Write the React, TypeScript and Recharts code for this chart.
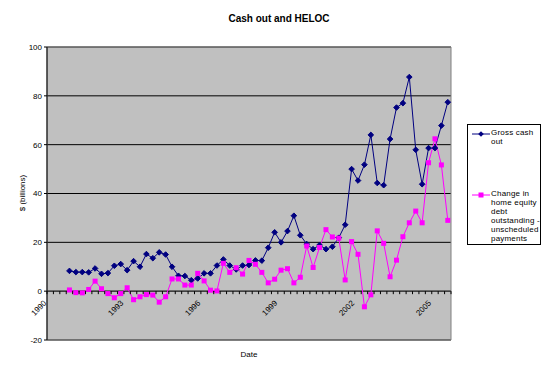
import React from "react";
import {
  LineChart,
  Line,
  XAxis,
  YAxis,
  CartesianGrid,
  ReferenceArea,
  ReferenceLine,
} from "recharts";

// quarterly observations, 1990Q4 .. 2005Q3
const quarters = [
  "1990Q4",
  "1991Q1", "1991Q2", "1991Q3", "1991Q4",
  "1992Q1", "1992Q2", "1992Q3", "1992Q4",
  "1993Q1", "1993Q2", "1993Q3", "1993Q4",
  "1994Q1", "1994Q2", "1994Q3", "1994Q4",
  "1995Q1", "1995Q2", "1995Q3", "1995Q4",
  "1996Q1", "1996Q2", "1996Q3", "1996Q4",
  "1997Q1", "1997Q2", "1997Q3", "1997Q4",
  "1998Q1", "1998Q2", "1998Q3", "1998Q4",
  "1999Q1", "1999Q2", "1999Q3", "1999Q4",
  "2000Q1", "2000Q2", "2000Q3", "2000Q4",
  "2001Q1", "2001Q2", "2001Q3", "2001Q4",
  "2002Q1", "2002Q2", "2002Q3", "2002Q4",
  "2003Q1", "2003Q2", "2003Q3", "2003Q4",
  "2004Q1", "2004Q2", "2004Q3", "2004Q4",
  "2005Q1", "2005Q2", "2005Q3",
];

const grossCashOut = [
  8.3,
  7.8, 7.8, 7.7, 9.3,
  7.1, 7.4, 10.4, 11.1,
  8.6, 12.3, 10.0, 15.2,
  13.5, 15.9, 15.0, 10.0,
  6.3, 6.2, 4.5, 5.2,
  7.3, 7.3, 10.5, 13.0,
  10.5, 8.9, 10.5, 10.7,
  12.6, 12.5, 17.8, 24.1,
  20.0, 24.6, 30.9, 22.9,
  19.3, 17.2, 18.9, 17.2,
  18.2, 21.9, 27.2, 50.0,
  45.3, 51.8, 64.0, 44.3,
  43.4, 62.3, 75.2, 77.0,
  87.7, 57.9, 43.8, 58.6,
  58.6, 67.8, 77.4,
];

const helocChange = [
  0.5,
  -0.6, -0.7, 0.7, 4.1,
  1.0, -1.0, -2.7, -1.0,
  1.4, -3.5, -2.3, -1.4,
  -1.6, -4.5, -2.3, 5.0,
  5.0, 2.5, 2.5, 7.3,
  4.2, 0.4, 0.1, 11.4,
  7.7, 9.6, 7.0, 12.6,
  11.0, 7.7, 3.4, 4.9,
  8.6, 9.2, 3.4, 5.7,
  18.5, 9.7, 17.9, 25.2,
  22.2, 21.7, 4.6, 20.3,
  15.1, -6.4, -1.5, 24.7,
  19.6, 5.9, 12.7, 22.3,
  28.0, 32.8, 28.0, 52.6,
  62.4, 51.7, 29.0,
];

const yearLabels = ["1990", "1993", "1996", "1999", "2002", "2005"];
const yTicks = [-20, 0, 20, 40, 60, 80, 100];

const legendLines = [
  ["Gross cash", "out"],
  ["Change in", "home equity", "debt", "outstanding -", "unscheduled", "payments"],
];

const START_YEAR = 1990;
const N_SLOTS = 63; // 1990Q1 .. 2005Q3
const Y_MIN = -20;
const Y_MAX = 100;

const PLOT_TOP = 47;
const PLOT_H = 293;
const zeroY = PLOT_TOP + (PLOT_H * Y_MAX) / (Y_MAX - Y_MIN);

const data = quarters.map((q, i) => {
  const [yr, qq] = q.split("Q");
  return {
    pos: (Number(yr) - START_YEAR) * 4 + Number(qq) - 1 + 0.5,
    gross: grossCashOut[i],
    heloc: helocChange[i],
  };
});

const xTicks = Array.from({ length: N_SLOTS + 1 }, (_, k) => k);

const FONT = "'Liberation Sans', Arial, sans-serif";

function XTick(props: any) {
  const { x, payload } = props;
  const k = payload.value;
  const label = k % 12 === 0 ? yearLabels[k / 12] : null;
  const ax = x;
  const ay = zeroY + 12.5;
  return (
    <g>
      <line x1={x} x2={x} y1={zeroY} y2={zeroY + 3} stroke="#000" />
      {label && (
        <text
          x={ax}
          y={ay}
          textAnchor="end"
          fontSize={8}
          fontFamily={FONT}
          fill="#000"
          transform={`rotate(-45 ${ax} ${ay})`}
        >
          {label}
        </text>
      )}
    </g>
  );
}

function Diamond(props: any) {
  const { cx, cy } = props;
  if (cx == null || cy == null) return null;
  const r = 2.8;
  return (
    <polygon
      points={`${cx},${cy - r} ${cx + r},${cy} ${cx},${cy + r} ${cx - r},${cy}`}
      fill="#000080"
      stroke="#000080"
    />
  );
}

function Square(props: any) {
  const { cx, cy } = props;
  if (cx == null || cy == null) return null;
  return <rect x={cx - 2.5} y={cy - 2.5} width={5} height={5} fill="#FF00FF" />;
}

function ChartLegend() {
  const items = [
    { color: "#000080", lines: legendLines[0], top: 8.5, mark: "d" },
    { color: "#FF00FF", lines: legendLines[1], top: 69.5, mark: "s" },
  ];
  return (
    <div
      style={{
        position: "absolute",
        left: 467,
        top: 124,
        width: 74,
        height: 121,
        border: "1px solid #000",
        boxSizing: "border-box",
        background: "#fff",
        fontFamily: FONT,
        fontSize: 8,
        color: "#000",
      }}
    >
      {items.map((it, i) => (
        <div key={i}>
          <svg
            width={18}
            height={8}
            style={{ position: "absolute", left: 4, top: it.top - 4 }}
          >
            <line x1={0} x2={18} y1={4} y2={4} stroke={it.color} />
            {it.mark === "d" ? (
              <polygon points="9,1.2 11.8,4 9,6.8 6.2,4" fill={it.color} />
            ) : (
              <rect x={6.5} y={1.5} width={5} height={5} fill={it.color} />
            )}
          </svg>
          <div
            style={{
              position: "absolute",
              left: 23,
              top: it.top - 4.5,
              lineHeight: "8.9px",
              whiteSpace: "nowrap",
              letterSpacing: 0.2,
            }}
          >
            {it.lines.map((l, j) => (
              <div key={j}>{l}</div>
            ))}
          </div>
        </div>
      ))}
    </div>
  );
}

export default function App() {
  return (
    <div style={{ position: "relative", width: 542, height: 370, background: "#fff" }}>
      <style>{`body{margin:0}`}</style>
      <LineChart
        width={542}
        height={370}
        data={data}
        margin={{ top: PLOT_TOP, right: 91, bottom: 0, left: 0 }}
      >
        <CartesianGrid vertical={false} fill="#C0C0C0" stroke="#000" />
        <ReferenceArea
          x1={0}
          x2={N_SLOTS}
          y1={Y_MIN}
          y2={Y_MAX}
          fill="#C0C0C0"
          fillOpacity={0}
          stroke="#808080"
        />
        <ReferenceLine y={0} stroke="#404040" />
        <XAxis
          type="number"
          dataKey="pos"
          domain={[0, N_SLOTS]}
          ticks={xTicks}
          interval={0}
          axisLine={false}
          tickLine={false}
          tick={(p: any) => <XTick {...p} />}
          height={30}
        />
        <YAxis
          domain={[Y_MIN, Y_MAX]}
          ticks={yTicks}
          interval={0}
          width={47}
          tickSize={3}
          axisLine={{ stroke: "#000" }}
          tickLine={{ stroke: "#000" }}
          tick={{ fontSize: 8, fill: "#000", fontFamily: FONT }}
        />
        <Line
          type="linear"
          dataKey="gross"
          name="Gross cash out"
          stroke="#000080"
          strokeWidth={1}
          dot={(p: any) => <Diamond key={p.index} {...p} />}
          isAnimationActive={false}
        />
        <Line
          type="linear"
          dataKey="heloc"
          name="Change in home equity debt outstanding - unscheduled payments"
          stroke="#FF00FF"
          strokeWidth={1}
          dot={(p: any) => <Square key={p.index} {...p} />}
          isAnimationActive={false}
        />
      </LineChart>
      <ChartLegend />
      <svg
        width={542}
        height={370}
        style={{ position: "absolute", left: 0, top: 0, pointerEvents: "none" }}
      >
        <text
          x={279}
          y={21.5}
          textAnchor="middle"
          fontSize={10}
          fontWeight="bold"
          fontFamily={FONT}
          fill="#000"
        >
          Cash out and HELOC
        </text>
        <text
          x={25}
          y={193}
          textAnchor="middle"
          fontSize={8}
          fontFamily={FONT}
          fill="#000"
          transform="rotate(-90 25 193)"
        >
          $ (billions)
        </text>
        <text x={249} y={357} textAnchor="middle" fontSize={8} fontFamily={FONT} fill="#000">
          Date
        </text>
      </svg>
    </div>
  );
}
